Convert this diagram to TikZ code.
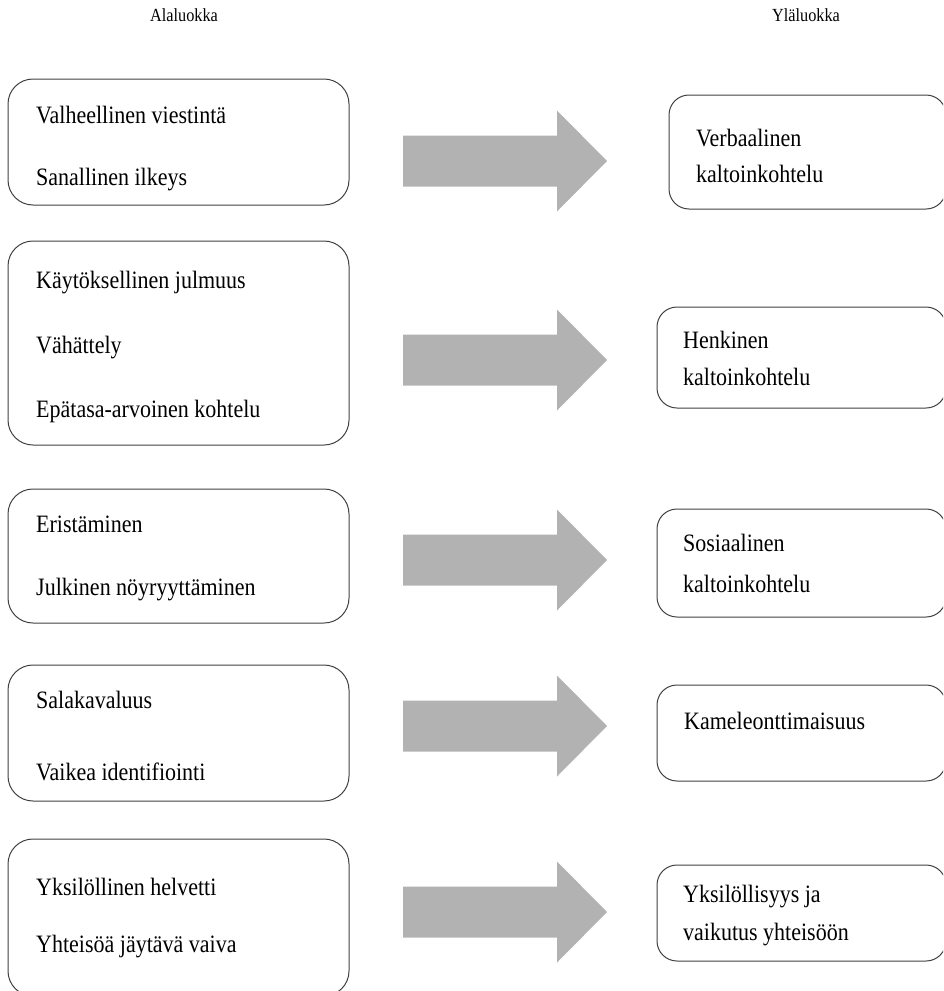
\documentclass[tikz,border=0pt]{standalone}
\usepackage{fontspec}
\setmainfont{Liberation Serif}[FakeStretch=0.88]
\usetikzlibrary{calc,positioning}
\tikzstyle{ala}=[draw=black!75,line width=1pt,rounded corners=25pt,minimum width=341pt,inner sep=0pt]
\tikzstyle{yla}=[draw=black!75,line width=1pt,rounded corners=20pt,inner sep=0pt]
\tikzstyle{txt}=[anchor=base west,inner sep=0pt,font=\fontsize{25}{30}\selectfont]
\tikzstyle{otsikko}=[inner sep=0pt,font=\fontsize{18.5}{22}\selectfont]
\tikzstyle{nuoli}=[fill=black!30]
% leveä harmaa nuoli, alkaa koordinaatista #1
\newcommand{\isonuoli}[1]{\fill[nuoli] ($(#1)+(0,-25.5)$) -- ++(154,0) -- ++(0,-25) -- ($(#1)+(204,0)$) -- ($(#1)+(154,50.5)$) -- ++(0,-25) -- ($(#1)+(0,25.5)$) -- cycle;}

\begin{document}
\begin{tikzpicture}[x=1pt,y=-1pt]
  \useasboundingbox (0,0) rectangle (943,991);
  \clip (0,0) rectangle (943,991);

  \node [otsikko] (h1) at (184,15) {Alaluokka};
  \node [otsikko] (h2) at (806,15) {Yläluokka};

  % alaluokat
  \node [ala,minimum height=126pt] (ala1) at (178.5,142) {};
  \node [ala,minimum height=204pt] (ala2) at (178.5,343) {};
  \node [ala,minimum height=134pt] (ala3) at (178.5,556) {};
  \node [ala,minimum height=136pt] (ala4) at (178.5,733) {};
  \node [ala,minimum height=157pt] (ala5) at (178.5,917.5) {};

  \node [txt] (ala1a) at (36,123) {Valheellinen viestintä};
  \node [txt] (ala1b) at (36,185) {Sanallinen ilkeys};
  \node [txt] (ala2a) at (36,288) {Käytöksellinen julmuus};
  \node [txt] (ala2b) at (36,353) {Vähättely};
  \node [txt] (ala2c) at (36,417) {Epätasa-arvoinen kohtelu};
  \node [txt] (ala3a) at (36,532) {Eristäminen};
  \node [txt] (ala3b) at (36,595) {Julkinen nöyryyttäminen};
  \node [txt] (ala4a) at (36,708) {Salakavaluus};
  \node [txt] (ala4b) at (36,780) {Vaikea identifiointi};
  \node [txt] (ala5a) at (36,895) {Yksilöllinen helvetti};
  \node [txt] (ala5b) at (36,952) {Yhteisöä jäytävä vaiva};

  % yläluokat
  \node [yla,minimum width=277pt,minimum height=114pt] (yla1) at (807.5,152) {};
  \node [yla,minimum width=289pt,minimum height=101pt] (yla2) at (801.5,357.5) {};
  \node [yla,minimum width=289pt,minimum height=108pt] (yla3) at (801.5,563) {};
  \node [yla,minimum width=289pt,minimum height=96pt] (yla4) at (801.5,733) {};
  \node [yla,minimum width=289pt,minimum height=96pt] (yla5) at (801.5,913) {};

  \node [txt] (yla1a) at (696,146) {Verbaalinen};
  \node [txt] (yla1b) at (696,182) {kaltoinkohtelu};
  \node [txt] (yla2a) at (683,348) {Henkinen};
  \node [txt] (yla2b) at (683,385) {kaltoinkohtelu};
  \node [txt] (yla3a) at (683,551) {Sosiaalinen};
  \node [txt] (yla3b) at (683,592) {kaltoinkohtelu};
  \node [txt] (yla4a) at (684,729) {Kameleonttimaisuus};
  \node [txt] (yla5a) at (683,902) {Yksilöllisyys ja};
  \node [txt] (yla5b) at (683,940) {vaikutus yhteisöön};

  % nuolet
  \coordinate (n1) at (403,161);
  \coordinate (n2) at (403,360);
  \coordinate (n3) at (403,560);
  \coordinate (n4) at (403,726);
  \coordinate (n5) at (403,912);
  \isonuoli{n1}
  \isonuoli{n2}
  \isonuoli{n3}
  \isonuoli{n4}
  \isonuoli{n5}
\end{tikzpicture}
\end{document}
